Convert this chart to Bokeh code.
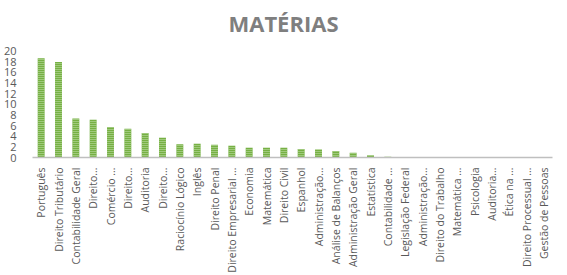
from bokeh.plotting import figure
from bokeh.models import Range1d, FactorRange, FixedTicker, Label
from bokeh.embed import file_html
from bokeh.resources import INLINE
import math

title_text = "MATÉRIAS"
categories = ["Português", "Direito Tributário", "Contabilidade Geral", "Direito…",
              "Comércio …", "Direito…", "Auditoria", "Direito…", "Raciocínio Lógico",
              "Inglês", "Direito Penal", "Direito Empresarial …", "Economia", "Matemática",
              "Direito Civil", "Espanhol", "Administração…", "Análise de Balanços",
              "Administração Geral", "Estatística", "Contabilidade …", "Legislação Federal",
              "Administração…", "Direito do Trabalho", "Matemática …", "Psicologia",
              "Auditoria…", "Ética na …", "Direito Processual …", "Gestão de Pessoas"]
values = [18.6, 17.9, 7.3, 7.1, 5.7, 5.4, 4.6, 3.7, 2.5, 2.6, 2.4, 2.2, 1.85, 1.85,
          1.85, 1.6, 1.5, 1.2, 0.9, 0.4, 0.15, 0, 0, 0, 0, 0, 0, 0, 0, 0]
y_ticks = [0, 2, 4, 6, 8, 10, 12, 14, 16, 18, 20]

# make duplicated labels unique with zero-width spaces
seen = {}
factors = []
for c in categories:
    n = seen.get(c, 0)
    factors.append(c + "\u200b" * n)
    seen[c] = n + 1

# frame spans from the top of the canvas so the title can sit inside it;
# the value axis 0..20 occupies the lower 108 px of the 159 px frame
FRAME_H = 159
AXIS_H = 108
y_top = 20 * FRAME_H / AXIS_H

p = figure(width=567, height=275, x_range=FactorRange(*factors, range_padding=0),
           y_range=Range1d(0, y_top), output_backend="svg", toolbar_location=None,
           min_border_left=32, min_border_right=15, min_border_top=0,
           min_border_bottom=116)
p.vbar(x=factors, top=values, width=0.4, fill_color="#76b043", line_color=None,
       hatch_pattern="horizontal_line", hatch_color="#c9e3b5", hatch_scale=2.0,
       hatch_weight=1.0)

# screen units are relative to the plot frame (origin bottom-left)
title = Label(x=251, y=135, x_units="screen", y_units="screen", text=title_text,
              text_align="center", text_baseline="alphabetic",
              text_font="Open Sans", text_font_size="22px", text_font_style="bold",
              text_color="#7f7f7f")
p.add_layout(title)

p.xgrid.grid_line_color = None
p.ygrid.grid_line_color = None
p.outline_line_color = None

p.yaxis.ticker = FixedTicker(ticks=y_ticks, minor_ticks=[])
p.yaxis.axis_line_color = None
p.yaxis.major_tick_line_color = None
p.yaxis.minor_tick_line_color = None
p.yaxis.major_label_standoff = 10
p.yaxis.major_label_text_font = "Open Sans"
p.yaxis.major_label_text_font_size = "11px"
p.yaxis.major_label_text_color = "#595959"

p.xaxis.axis_line_color = "#bfbfbf"
p.xaxis.axis_line_width = 1.5
p.xaxis.major_tick_line_color = None
p.xaxis.minor_tick_line_color = None
p.xaxis.major_label_orientation = math.pi / 2
p.xaxis.major_label_standoff = 4
p.xaxis.major_label_text_font = "Open Sans"
p.xaxis.major_label_text_font_size = "10.5px"
p.xaxis.major_label_text_color = "#595959"

p.background_fill_color = "white"
p.border_fill_color = "white"

open("out.html", "w").write(file_html(p, INLINE))
